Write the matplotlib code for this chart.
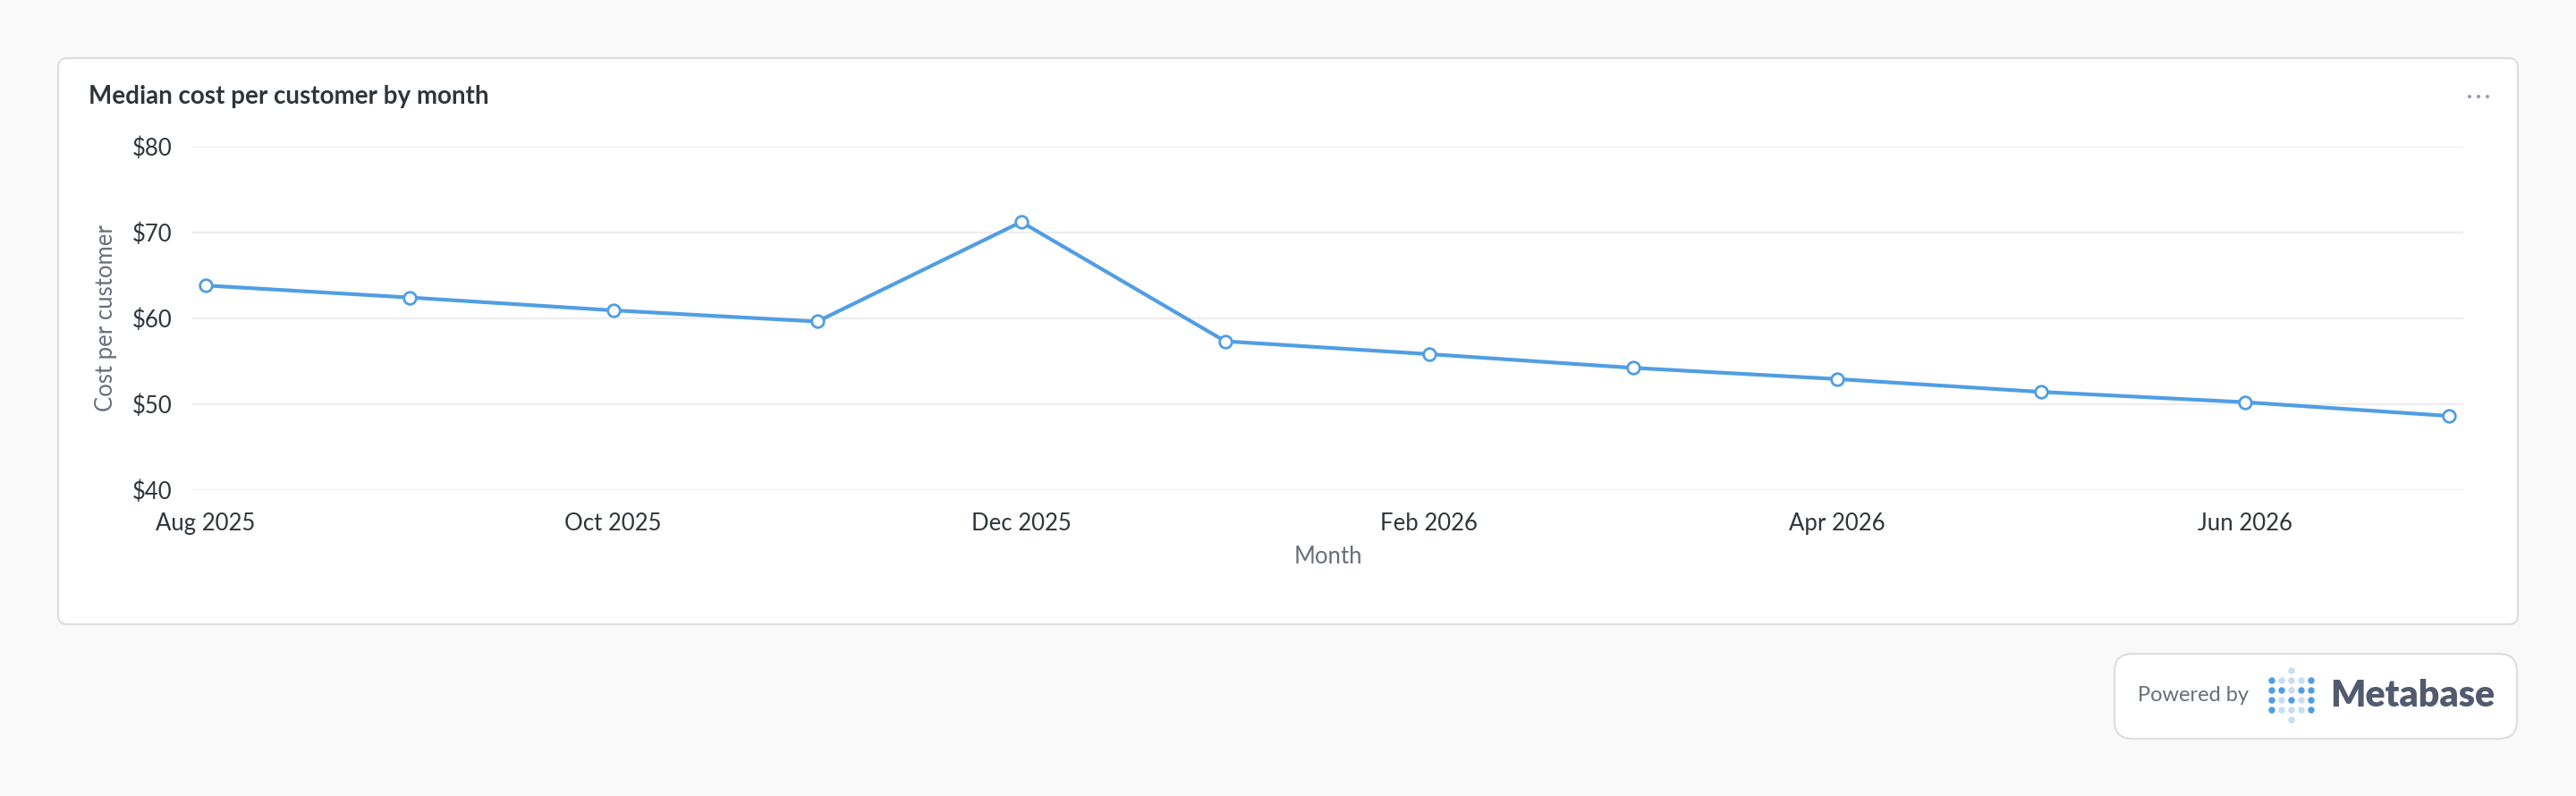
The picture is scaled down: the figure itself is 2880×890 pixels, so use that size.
import matplotlib
matplotlib.use("Agg")
import matplotlib.pyplot as plt
from matplotlib.patches import FancyBboxPatch, Circle

# ── data ────────────────────────────────────────────────────────────────
months = ["Aug 2025", "Sep 2025", "Oct 2025", "Nov 2025", "Dec 2025", "Jan 2026",
          "Feb 2026", "Mar 2026", "Apr 2026", "May 2026", "Jun 2026", "Jul 2026"]
cost = [63.8, 62.4, 60.9, 59.6, 71.2, 57.3, 55.8, 54.2, 52.9, 51.4, 50.2, 48.6]
y_ticks = [40, 50, 60, 70, 80]
y_ticklabels = ["$40", "$50", "$60", "$70", "$80"]
title = "Median cost per customer by month"

W, H = 2880, 890
BLUE = "#509EE3"
LIGHT = "#C7DDF3"
DARK_TEXT = "#2E353B"
MID_TEXT = "#696E7B"

plt.rcParams["font.family"] = ["Lato", "DejaVu Sans"]

fig = plt.figure(figsize=(W / 100, H / 100), dpi=100)
fig.patch.set_facecolor("#F9F9FA")

# background layer in pixel coordinates (card + badge)
bg = fig.add_axes([0, 0, 1, 1])
bg.set_xlim(0, W)
bg.set_ylim(H, 0)
bg.axis("off")

card = FancyBboxPatch((65, 65), 2750, 633, boxstyle="round,pad=0,rounding_size=10",
                      facecolor="white", edgecolor="#DCDFE0", linewidth=1.6)
bg.add_patch(card)
bg.text(99, 108, title, fontsize=20, fontweight="bold", color=DARK_TEXT,
        ha="left", va="center")
# "more" menu dots
for dx in (2761, 2771, 2781):
    bg.add_patch(Circle((dx, 108), 2.0, color="#949AAB", lw=0))

badge = FancyBboxPatch((2364, 731), 450, 95, boxstyle="round,pad=0,rounding_size=20",
                       facecolor="white", edgecolor="#DCDFE0", linewidth=1.6)
bg.add_patch(badge)
bg.text(2390, 778, "Powered by", fontsize=17, color=MID_TEXT, ha="left", va="center")
bg.text(2605, 778, "Metabase", fontsize=29.6, fontweight="heavy", color="#515A6E",
        ha="left", va="center")

# metabase "M" dot logo
logo_rows = ["DLLLD", "DDLDD", "DLDLD", "DLLLD"]
col_x = [2540, 2551, 2562, 2573, 2584]
row_y = [761, 772, 783, 794]
for r, pattern in enumerate(logo_rows):
    for c, ch in enumerate(pattern):
        bg.add_patch(Circle((col_x[c], row_y[r]), 3.7, color=BLUE if ch == "D" else LIGHT, lw=0))
bg.add_patch(Circle((2562, 750), 3.7, color=LIGHT, lw=0))
bg.add_patch(Circle((2562, 805), 3.7, color=LIGHT, lw=0))

# ── chart ───────────────────────────────────────────────────────────────
ax = fig.add_axes([215 / W, (H - 547.6) / H, (2754 - 215) / W, (547.6 - 163.7) / H])
ax.patch.set_alpha(0)
x = list(range(len(months)))
ax.plot(x, cost, color=BLUE, linewidth=3.0, marker="o", markersize=9.8,
        markerfacecolor="white", markeredgecolor=BLUE, markeredgewidth=2.0, zorder=3)

ax.set_xlim(-0.064, 11.07)
ax.set_ylim(40, 80)
ax.set_yticks(y_ticks)
ax.set_yticklabels(y_ticklabels)
ax.set_xticks(x[::2])
ax.set_xticklabels(months[::2])
ax.tick_params(axis="both", length=0, labelsize=18.5, labelcolor=DARK_TEXT)
ax.tick_params(axis="y", pad=16)
ax.tick_params(axis="x", pad=18.5)
ax.grid(axis="y", color="#EDEEEF", linewidth=1.6)
ax.set_axisbelow(True)
for s in ax.spines.values():
    s.set_visible(False)

ax.set_xlabel("Month", fontsize=18.5, color=MID_TEXT, labelpad=8.5)
ax.set_ylabel("Cost per customer", fontsize=18.5, color=MID_TEXT, labelpad=12)

fig.savefig("out.png", dpi=100, facecolor=fig.get_facecolor())
